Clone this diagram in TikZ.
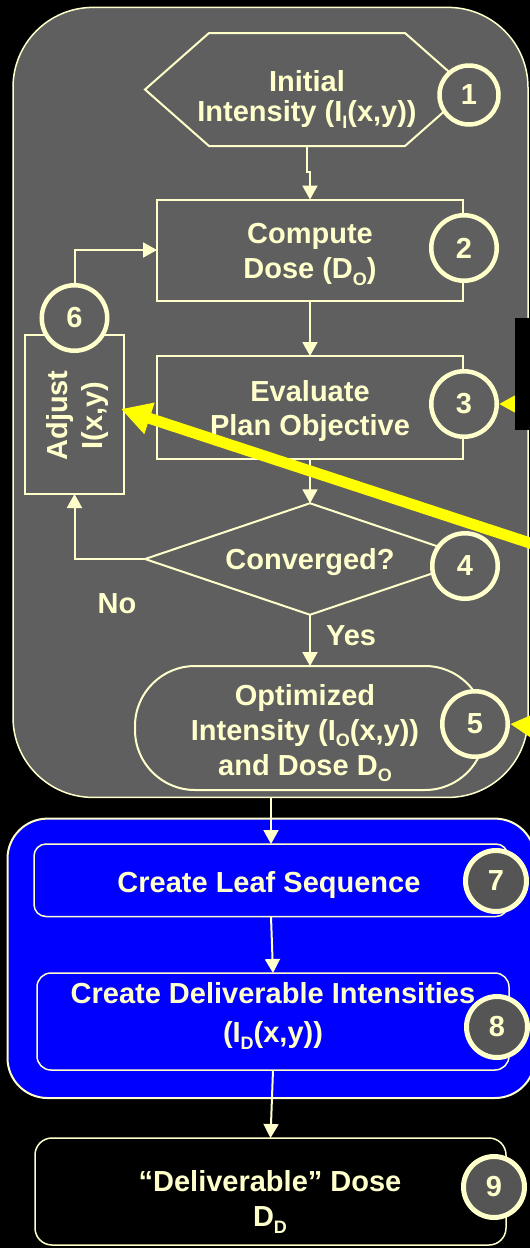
\documentclass[tikz,border=0pt]{standalone}
\usepackage{fontspec}
\setmainfont{Liberation Sans}
\usetikzlibrary{arrows.meta,calc}
\definecolor{cream}{HTML}{FFFFCC}
\definecolor{slate}{HTML}{5F5F5F}
\definecolor{disc}{HTML}{555555}
\definecolor{royal}{HTML}{0000FF}
\definecolor{hilite}{HTML}{FFFF00}
% lowered subscript used in the labels
\newcommand\lowsub[1]{\raisebox{-6.5pt}{\fontsize{18}{18}\selectfont #1}}
\begin{document}
\begin{tikzpicture}[x=1pt,y=-1pt,
  outline/.style={draw=cream, line width=2pt},
  plainbox/.style={inner sep=0pt, outer sep=0pt},
  boxshape/.style={outline, plainbox},
  caption/.style={text=cream, font=\fontsize{29}{35}\selectfont\bfseries, align=center, inner sep=0pt},
  badge/.style={circle, draw=cream, line width=4.5pt, fill=slate, text=cream,
    font=\fontsize{29}{29}\selectfont\bfseries, inner sep=0pt, minimum size=65.5pt},
  darkbadge/.style={badge, fill=disc, line width=5pt, minimum size=61pt},
  flowarrow/.style={draw=cream, line width=2pt, -{Triangle[width=15pt,length=14pt]}},
  hiarrow/.style={draw=hilite}
]
\fill[black] (0,0) rectangle (530,1248);
\useasboundingbox (0,0) rectangle (530,1248);

% group frames
\node[plainbox, draw=cream, line width=1.5pt, fill=slate, rounded corners=80pt,
  minimum width=515pt, minimum height=790pt] (grp) at (270.5,402.4) {};
\node[plainbox, draw=cream, line width=2pt, fill=royal, rounded corners=40pt,
  minimum width=527.5pt, minimum height=279.4pt] (blk) at (271.25,958.3) {};

% step shapes
\node[plainbox, minimum width=196pt, minimum height=113pt] (n1) at (307,89.5) {};
\draw[outline] (n1.north west) -- (n1.north east) -- ($(n1.east)+(64,0)$)
  -- (n1.south east) -- (n1.south west) -- ($(n1.west)+(-64,0)$) -- cycle;
\node[boxshape, minimum width=306pt, minimum height=101pt] (n2) at (310,250) {};
\node[boxshape, minimum width=306pt, minimum height=103pt] (n3) at (310,407.5) {};
\node[plainbox, minimum width=330pt, minimum height=111.5pt] (n4) at (310,559) {};
\draw[outline] (n4.north) -- (n4.east) -- (n4.south) -- (n4.west) -- cycle;
\node[boxshape, rounded corners=60pt, minimum width=350pt, minimum height=124pt] (n5) at (310,728) {};
\node[boxshape, minimum width=99pt, minimum height=159pt] (n6) at (74.5,414.5) {};
\node[boxshape, line width=1.5pt, rounded corners=12pt, minimum width=474pt, minimum height=72.5pt] (n7) at (271,880.25) {};
\node[boxshape, line width=1.5pt, rounded corners=14pt, minimum width=472pt, minimum height=97pt] (n8) at (273,1021.5) {};
\node[boxshape, line width=1.5pt, fill=black, rounded corners=17pt, minimum width=471pt, minimum height=107pt] (n9) at (270.5,1191.5) {};

% connectors
\draw[flowarrow] (n1.south) -- ++(0,26) -| (n2.north);
\draw[flowarrow] (n2.south) -- (n3.north);
\draw[flowarrow] (n3.south) -- (n4.north);
\draw[flowarrow] (n4.south) -- (n5.north);
\draw[flowarrow] (n4.west) -| (n6.south);
\draw[flowarrow] (n6.north) |- (n2.west);
\draw[flowarrow] (n7.north |- grp.south) -- (n7.north);
\draw[flowarrow] (n7.south) -- (n8.north);
\draw[flowarrow] (n8.south) -- (n9.north);

% labels
\node[caption] (t1) at (307,99.6) {Initial\\[-5pt]Intensity (I\lowsub{I}(x,y))};
\node[caption] (t2) at (310,254.6) {Compute\\Dose (D\lowsub{O})};
\node[caption] (t3) at (310,410.6) {Evaluate\\[-1pt]Plan Objective};
\node[caption] (t4) at (310,562) {Converged?};
\node[caption] (t5) at (305,733) {Optimized\\Intensity (I\lowsub{O}(x,y))\\and Dose D\lowsub{O}};
\node[caption, rotate=90] (t6) at (78,415.5) {Adjust\\I(x,y)};
\node[caption] (t7) at (269,884.5) {Create Leaf Sequence};
\node[caption] (t8) at (273,1016) {Create Deliverable Intensities\\[4pt](I\lowsub{D}(x,y))};
\node[caption] (t9) at (270,1202) {“Deliverable” Dose\\D\lowsub{D}};
\node[caption] (lno) at (117,604) {No};
\node[caption] (lyes) at (351,635.5) {Yes};

% step numbers
\node[badge, minimum size=59pt] (c1) at (469,95) {1};
\node[badge] (c2) at (464,248) {2};
\node[badge] (c3) at (464,404) {3};
\node[badge] (c4) at (465,566) {4};
\node[badge] (c5) at (475,724) {5};
\node[badge] (c6) at (74.5,318) {6};
\node[darkbadge] (c7) at (496,881) {7};
\node[darkbadge] (c8) at (497,1027) {8};
\node[darkbadge] (c9) at (494,1187) {9};

% highlight pointers
\coordinate (srcA) at (600,566);
\coordinate (srcB) at (570,404);
\coordinate (srcC) at (600,732);
\draw[hiarrow, line width=11pt, -{Triangle[width=31pt,length=30pt]}] (srcA) -- ([shift={(-3,-5.5)}]n6.east);
\draw[hiarrow, line width=5pt, -{Triangle[width=16pt,length=16pt]}] (srcB) -- (c3.east);
\draw[hiarrow, line width=8pt, -{Triangle[width=28pt,length=28pt]}] (srcC) -- (c5.east);
\fill[black] (515,318) rectangle (535,430);
\end{tikzpicture}
\end{document}
